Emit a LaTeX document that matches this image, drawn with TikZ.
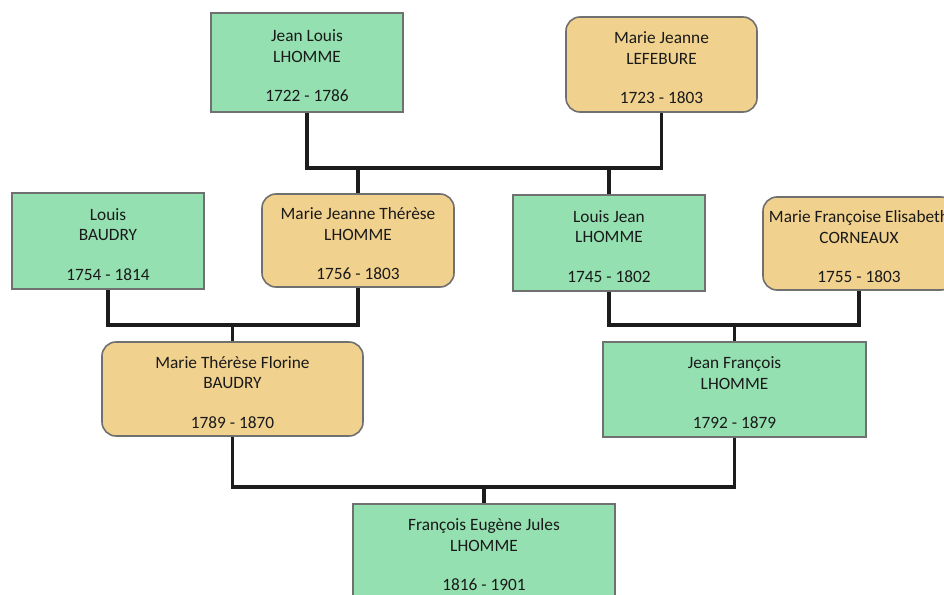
\documentclass[tikz,border=0pt]{standalone}
\usepackage{fontspec}
\setmainfont{Carlito}
\definecolor{mgreen}{HTML}{94E0B1}
\definecolor{morange}{HTML}{F1D18E}
\definecolor{mborder}{HTML}{707070}
\definecolor{mline}{HTML}{1C1C1C}
\definecolor{mtext}{HTML}{1A1A1A}
\newcommand{\tstrut}{\rule{0pt}{19pt}}
\tikzset{
  person/.style={draw=mborder, line width=1.6pt, align=center, inner sep=0pt,
    text=mtext, font=\fontsize{17.3}{20.5}\selectfont},
  male/.style={person, fill=mgreen},
  female/.style={person, fill=morange, rounded corners=14pt},
  link/.style={draw=mline, line width=3.2pt},
}
\begin{document}
\begin{tikzpicture}[x=1pt,y=1pt]
\useasboundingbox (0,0) rectangle (944,-594);
\fill[white] (0,0) rectangle (944,-594);
\clip (0,0) rectangle (944,-594);
% generation 1
\node[male, minimum width=192, minimum height=99] (jl) at (307,-62.5) {\tstrut Jean Louis\\LHOMME\\[19pt]1722 - 1786};
\node[female, minimum width=191, minimum height=95] (mj) at (661.5,-64.5) {\tstrut Marie Jeanne\\LEFEBURE\\[19pt]1723 - 1803};
% generation 2
\node[male, minimum width=192, minimum height=96] (lb) at (108,-241) {\tstrut Louis\\BAUDRY\\[19pt]1754 - 1814};
\node[female, minimum width=192, minimum height=93] (mjt) at (358,-240.5) {\tstrut Marie Jeanne Thérèse\\LHOMME\\[19pt]1756 - 1803};
\node[male, minimum width=192, minimum height=96] (lj) at (609,-243) {\tstrut Louis Jean\\LHOMME\\[19pt]1745 - 1802};
\node[female, minimum width=192, minimum height=93] (mfe) at (859,-243.5) {\tstrut Marie Françoise Elisabeth\\CORNEAUX\\[19pt]1755 - 1803};
% generation 3
\node[female, minimum width=261, minimum height=94] (mtf) at (232.5,-389) {\tstrut Marie Thérèse Florine\\BAUDRY\\[19pt]1789 - 1870};
\node[male, minimum width=263, minimum height=95] (jf) at (734.5,-389.5) {\tstrut Jean François\\LHOMME\\[19pt]1792 - 1879};
% generation 4
\node[male, minimum width=262, minimum height=95] (fej) at (484,-551.5) {\tstrut François Eugène Jules\\LHOMME\\[19pt]1816 - 1901};
% junctions
\coordinate (u1) at (0,-168);
\coordinate (u2) at (0,-325);
\coordinate (u3) at (0,-487);
% connectors
\draw[link] (jl.south) |- (u1 -| mj.south) -- (mj.south);
\draw[link] (mjt.north) -- (mjt.north |- u1);
\draw[link] (lj.north) -- (lj.north |- u1);
\draw[link] (lb.south) |- (u2 -| mjt.south) -- (mjt.south);
\draw[link] (mtf.north) -- (mtf.north |- u2);
\draw[link] (lj.south) |- (u2 -| mfe.south) -- (mfe.south);
\draw[link] (jf.north) -- (jf.north |- u2);
\draw[link] (mtf.south) |- (u3 -| jf.south) -- (jf.south);
\draw[link] (fej.north) -- (fej.north |- u3);
\end{tikzpicture}
\end{document}
